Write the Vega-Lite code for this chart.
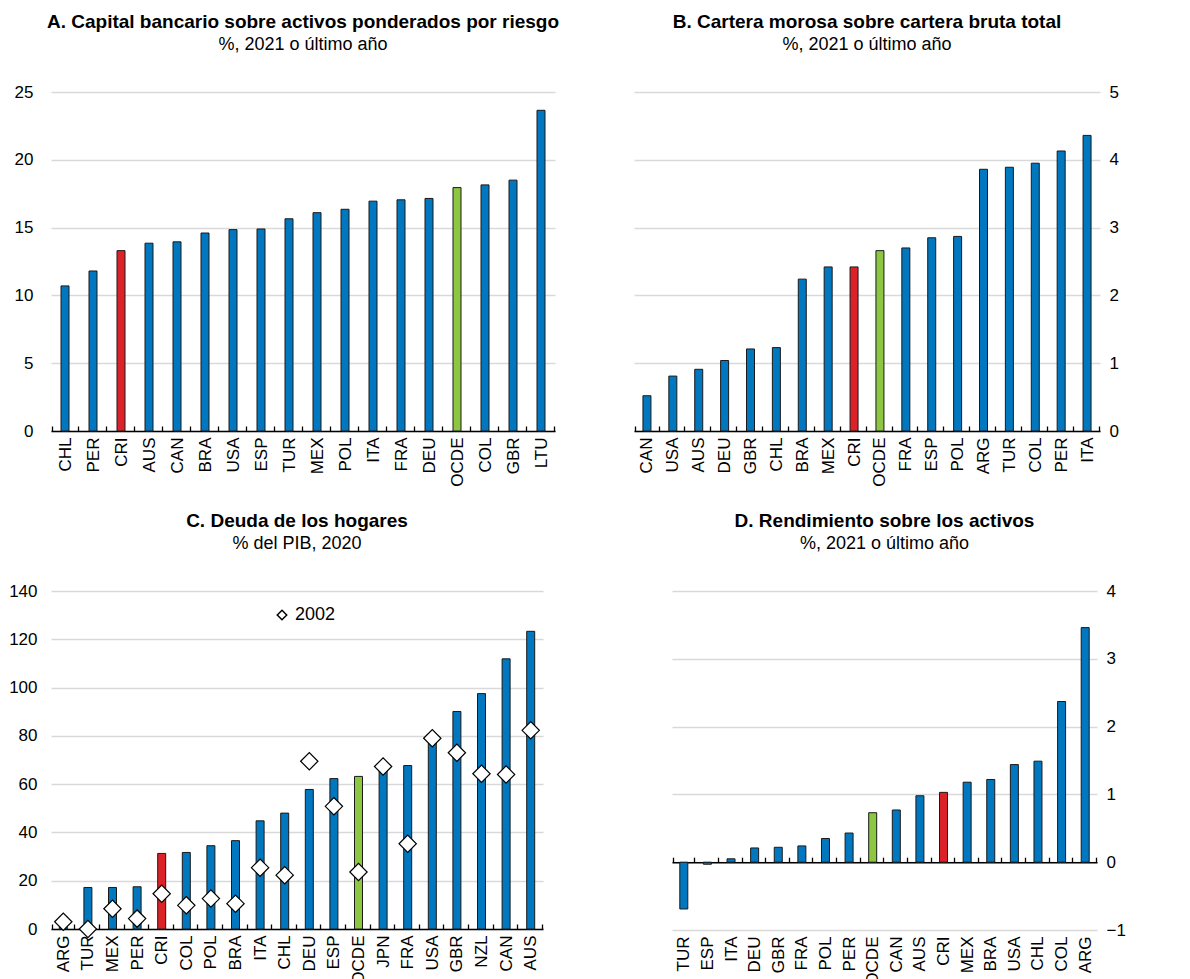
{
  "$schema": "https://vega.github.io/schema/vega-lite/v6.json",
  "padding": {"left": 8, "top": 13, "right": 5, "bottom": 0},
  "background": "white",
  "columns": 1,
  "align": "none",
  "spacing": 25,
  "config": {
    "view": {"stroke": null},
    "font": "Liberation Sans",
    "title": {
      "font": "Liberation Sans",
      "fontSize": 19,
      "fontWeight": "bold",
      "color": "#000000",
      "subtitleFont": "Liberation Sans",
      "subtitleFontSize": 18,
      "subtitleColor": "#000000",
      "subtitlePadding": 4,
      "offset": 29,
      "anchor": "middle"
    },
    "axis": {
      "labelFont": "Liberation Sans",
      "labelFontSize": 17,
      "labelColor": "#000000",
      "title": null,
      "gridColor": "#d9d9d9",
      "gridWidth": 1.6
    },
    "axisX": {
      "labelAngle": -90,
      "domainColor": "#000000",
      "domainWidth": 1.6,
      "tickColor": "#000000",
      "tickWidth": 1.3,
      "tickSize": -5,
      "tickBand": "extent",
      "labelPadding": 11,
      "grid": false
    },
    "axisY": {
      "domain": false,
      "ticks": false,
      "grid": true,
      "labelPadding": 18
    },
    "bar": {"size": 8, "stroke": "#1a1a1a", "strokeWidth": 1}
  },
  "concat": [
    {
      "spacing": 65,
      "hconcat": [
        {
          "width": 504,
          "height": 339,
          "title": {"text": "A. Capital bancario sobre activos ponderados por riesgo", "subtitle": "%, 2021 o último año"},
          "data": {"values": [
            {"c": "CHL", "v": 10.7}, {"c": "PER", "v": 11.8}, {"c": "CRI", "v": 13.3},
            {"c": "AUS", "v": 13.85}, {"c": "CAN", "v": 13.95}, {"c": "BRA", "v": 14.6},
            {"c": "USA", "v": 14.85}, {"c": "ESP", "v": 14.9}, {"c": "TUR", "v": 15.65},
            {"c": "MEX", "v": 16.1}, {"c": "POL", "v": 16.35}, {"c": "ITA", "v": 16.95},
            {"c": "FRA", "v": 17.05}, {"c": "DEU", "v": 17.15}, {"c": "OCDE", "v": 17.95},
            {"c": "COL", "v": 18.15}, {"c": "GBR", "v": 18.5}, {"c": "LTU", "v": 23.65}
          ]},
          "mark": {"type": "bar"},
          "encoding": {
            "x": {"field": "c", "type": "nominal", "sort": null},
            "y": {"field": "v", "type": "quantitative", "scale": {"domain": [0, 25]}, "axis": {"values": [0, 5, 10, 15, 20, 25], "orient": "left"}},
            "color": {
              "condition": [
                {"test": "datum.c === 'CRI'", "value": "#DC2228"},
                {"test": "datum.c === 'OCDE'", "value": "#8DC641"}
              ],
              "value": "#0077BE"
            }
          }
        },
        {
          "width": 466,
          "height": 339,
          "title": {"text": "B. Cartera morosa sobre cartera bruta total", "subtitle": "%, 2021 o último año"},
          "data": {"values": [
            {"c": "CAN", "v": 0.52}, {"c": "USA", "v": 0.81}, {"c": "AUS", "v": 0.91},
            {"c": "DEU", "v": 1.04}, {"c": "GBR", "v": 1.21}, {"c": "CHL", "v": 1.23},
            {"c": "BRA", "v": 2.24}, {"c": "MEX", "v": 2.42}, {"c": "CRI", "v": 2.42},
            {"c": "OCDE", "v": 2.66}, {"c": "FRA", "v": 2.7}, {"c": "ESP", "v": 2.85},
            {"c": "POL", "v": 2.87}, {"c": "ARG", "v": 3.86}, {"c": "TUR", "v": 3.89},
            {"c": "COL", "v": 3.95}, {"c": "PER", "v": 4.13}, {"c": "ITA", "v": 4.36}
          ]},
          "mark": {"type": "bar"},
          "encoding": {
            "x": {"field": "c", "type": "nominal", "sort": null},
            "y": {"field": "v", "type": "quantitative", "scale": {"domain": [0, 5]}, "axis": {"values": [0, 1, 2, 3, 4, 5], "orient": "right", "labelPadding": 9}},
            "color": {
              "condition": [
                {"test": "datum.c === 'CRI'", "value": "#DC2228"},
                {"test": "datum.c === 'OCDE'", "value": "#8DC641"}
              ],
              "value": "#0077BE"
            }
          }
        }
      ]
    },
    {
      "spacing": 120,
      "hconcat": [
        {
          "width": 492,
          "height": 338,
          "title": {"text": "C. Deuda de los hogares", "subtitle": "% del PIB, 2020"},
          "data": {"values": [
            {"c": "ARG", "v2020": 5, "v2002": 3.0},
            {"c": "TUR", "v2020": 17.2, "v2002": 0},
            {"c": "MEX", "v2020": 17.2, "v2002": 8.4},
            {"c": "PER", "v2020": 17.5, "v2002": 4.3},
            {"c": "CRI", "v2020": 31.3, "v2002": 14.6},
            {"c": "COL", "v2020": 31.7, "v2002": 9.8},
            {"c": "POL", "v2020": 34.5, "v2002": 12.6},
            {"c": "BRA", "v2020": 36.6, "v2002": 10.5},
            {"c": "ITA", "v2020": 44.8, "v2002": 25.4},
            {"c": "CHL", "v2020": 48.0, "v2002": 22.3},
            {"c": "DEU", "v2020": 57.8, "v2002": 69.5},
            {"c": "ESP", "v2020": 62.3, "v2002": 50.8},
            {"c": "OCDE", "v2020": 63.2, "v2002": 23.6},
            {"c": "JPN", "v2020": 66.5, "v2002": 67.3},
            {"c": "FRA", "v2020": 67.7, "v2002": 35.3},
            {"c": "USA", "v2020": 78.3, "v2002": 79.0},
            {"c": "GBR", "v2020": 90.1, "v2002": 73.0},
            {"c": "NZL", "v2020": 97.5, "v2002": 64.3},
            {"c": "CAN", "v2020": 111.9, "v2002": 64.0},
            {"c": "AUS", "v2020": 123.3, "v2002": 82.3}
          ]},
          "layer": [
            {
              "mark": {"type": "bar"},
              "encoding": {
                "x": {"field": "c", "type": "nominal", "sort": null},
                "y": {"field": "v2020", "type": "quantitative", "scale": {"domain": [0, 140]}, "axis": {"values": [0, 20, 40, 60, 80, 100, 120, 140], "orient": "left", "labelPadding": 14}},
                "color": {
                  "condition": [
                    {"test": "datum.c === 'CRI'", "value": "#DC2228"},
                    {"test": "datum.c === 'OCDE'", "value": "#8DC641"}
                  ],
                  "value": "#0077BE"
                }
              }
            },
            {
              "mark": {"type": "point", "filled": false, "fill": "white", "fillOpacity": 1, "stroke": "black", "strokeWidth": 1.2, "size": 300, "opacity": 1},
              "encoding": {
                "x": {"field": "c", "type": "nominal", "sort": null},
                "y": {"field": "v2002", "type": "quantitative"},
                "shape": {
                  "datum": "2002",
                  "scale": {"range": ["diamond"]},
                  "legend": {
                    "title": null,
                    "orient": "none",
                    "legendX": 222,
                    "legendY": 514,
                    "symbolType": "diamond",
                    "symbolSize": 90,
                    "labelFontSize": 18,
                    "labelFont": "Liberation Sans",
                    "labelColor": "#000000",
                    "labelOffset": 4,
                    "encode": {
                      "symbols": {
                        "update": {
                          "fill": {"value": "white"},
                          "fillOpacity": {"value": 1},
                          "stroke": {"value": "black"},
                          "strokeWidth": {"value": 1.1},
                          "opacity": {"value": 1},
                          "shape": {"value": "diamond"},
                          "size": {"value": 90}
                        }
                      }
                    }
                  }
                }
              }
            }
          ]
        },
        {
          "width": 425,
          "height": 339,
          "title": {"text": "D. Rendimiento sobre los activos", "subtitle": "%, 2021 o último año"},
          "data": {"values": [
            {"c": "TUR", "v": -0.69}, {"c": "ESP", "v": -0.03}, {"c": "ITA", "v": 0.05},
            {"c": "DEU", "v": 0.21}, {"c": "GBR", "v": 0.22}, {"c": "FRA", "v": 0.24},
            {"c": "POL", "v": 0.35}, {"c": "PER", "v": 0.43}, {"c": "OCDE", "v": 0.73},
            {"c": "CAN", "v": 0.77}, {"c": "AUS", "v": 0.98}, {"c": "CRI", "v": 1.03},
            {"c": "MEX", "v": 1.18}, {"c": "BRA", "v": 1.22}, {"c": "USA", "v": 1.44},
            {"c": "CHL", "v": 1.49}, {"c": "COL", "v": 2.37}, {"c": "ARG", "v": 3.46}
          ]},
          "mark": {"type": "bar"},
          "encoding": {
            "x": {"field": "c", "type": "nominal", "sort": null, "axis": {"orient": "bottom", "offset": -67.8, "labelPadding": 78.8}},
            "y": {"field": "v", "type": "quantitative", "scale": {"domain": [-1, 4]}, "axis": {"values": [-1, 0, 1, 2, 3, 4], "format": "d", "orient": "right", "labelPadding": 9}},
            "color": {
              "condition": [
                {"test": "datum.c === 'CRI'", "value": "#DC2228"},
                {"test": "datum.c === 'OCDE'", "value": "#8DC641"}
              ],
              "value": "#0077BE"
            }
          }
        }
      ]
    }
  ]
}
